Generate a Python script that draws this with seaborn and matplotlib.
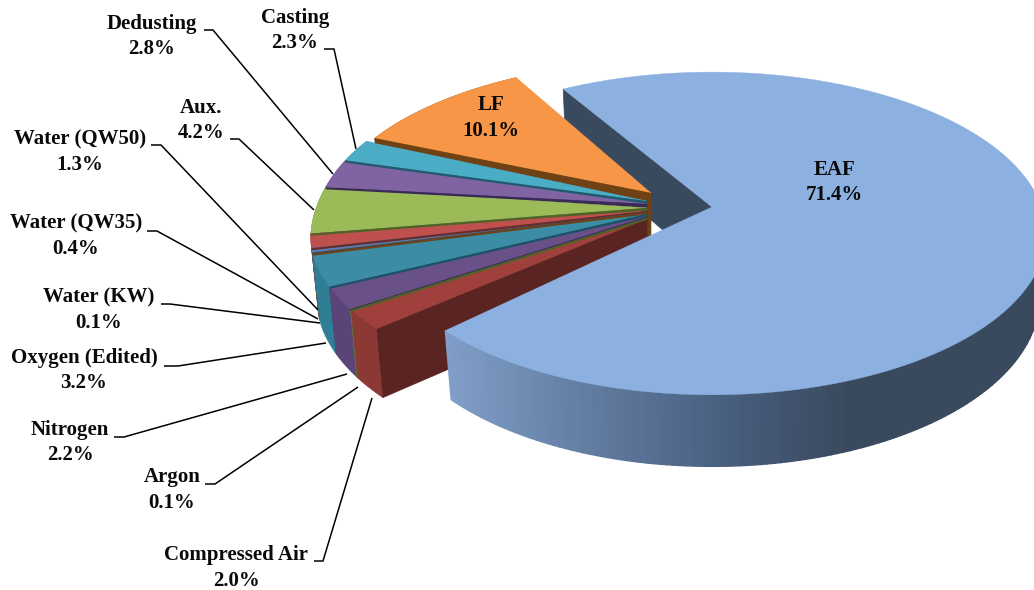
import numpy as np
import seaborn as sns
import matplotlib
matplotlib.use("Agg")
import matplotlib.pyplot as plt

# Energy shares per consumer, in percent
names = ["EAF", "LF", "Casting", "Dedusting", "Aux.", "Water (QW50)", "Water (QW35)",
         "Water (KW)", "Oxygen (Edited)", "Nitrogen", "Argon", "Compressed Air"]
shares = [71.4, 10.1, 2.3, 2.8, 4.2, 1.3, 0.4, 0.1, 3.2, 2.2, 0.1, 2.0]

top_colors = ["#8CB0E0", "#F79646", "#4BACC6", "#8064A2", "#9BBB59", "#C0504D",
              "#4F81BD", "#B9752F", "#3C8CA5", "#6A5088", "#7C9A42", "#A0403C"]
band_colors = ["#3A4A5E", "#6E4215", "#1F5A6E", "#3A2A58", "#4F6228", "#6B2B28",
               "#2C4F7A", "#6E4215", "#1A5266", "#3F2E5C", "#4F6228", "#5A2422"]
rim_colors = ["#3A4A5E", "#A8662C", "#337F94", "#5D4779", "#6F8A3C", "#8C3835",
              "#3A6490", "#8A5520", "#2F7E95", "#5B4578", "#66803A", "#8C3835"]

# Label anchor (centre x, first line y), in pixels
label_pos = [(834, 170), (491, 105), (295, 18), (152, 24), (201, 108), (80, 139),
             (76, 223), (99, 297), (84, 358), (70, 430), (172, 477), (236, 555)]

# Leader polylines, in pixels; the two largest slices carry their labels on the face
leaders = {
    "Casting": [(324, 49), (334, 49), (356, 149)],
    "Dedusting": [(204, 30), (213, 30), (333, 174)],
    "Aux.": [(230, 139), (239, 139), (314, 210)],
    "Water (QW50)": [(151, 145), (161, 145), (318, 310)],
    "Water (QW35)": [(147, 231), (157, 231), (318, 319)],
    "Water (KW)": [(161, 304), (170, 304), (320, 323)],
    "Oxygen (Edited)": [(164, 366), (178, 366), (326, 343)],
    "Nitrogen": [(114, 437), (124, 437), (347, 374)],
    "Argon": [(205, 484), (215, 484), (358, 387)],
    "Compressed Air": [(314, 561), (323, 561), (372, 398)],
}

# Projection of the tilted disc onto the page
RX, RY, PERSP, DEPTH, DROP = 338.0, 157.0, 0.164, 65.0, 0.02
START_ANGLE = 239.4
EAF_START = 239.0
EAF_XSCALE = 0.975


def project(theta, cx, cy, z=0.0, xs=1.0):
    t = np.radians(theta)
    u, v = np.cos(t), np.sin(t)
    w = 1 - PERSP * v + DROP * z
    return cx + xs * RX * u / w, cy + (RY * v + DEPTH * z) / w


def rim_centre(theta, slice_index):
    # The upper small slices sit slightly further back than the lower ones
    if slice_index == 1:
        return 667.0, 196.0
    s = np.clip((theta - 160.0) / 32.0, 0, 1)
    s = s * s * (3 - 2 * s)
    return 652.0 + 7.0 * s, 206.0 - 7.0 * s


sns.set_theme(style="white")
plt.rcParams["font.family"] = ["Liberation Serif", "DejaVu Serif"]

fig = plt.figure(figsize=(10.34, 5.90), dpi=100)
ax = fig.add_axes([0, 0, 1, 1])
ax.set_xlim(0, 1034)
ax.set_ylim(590, 0)
ax.axis("off")

spans = np.array(shares) / sum(shares) * 360.0
EAF_C = (712.0, 207.0)
eaf_low = EAF_START + spans[0] - 360.0   # lower-left edge of the large slice

# Back radial wall of the large slice
x0, y0 = project(EAF_START, *EAF_C, xs=EAF_XSCALE)
x1, y1 = project(EAF_START, *EAF_C, z=1, xs=EAF_XSCALE)
ax.fill([x0, EAF_C[0], EAF_C[0], x1], [y0, EAF_C[1], EAF_C[1] + DEPTH, y1],
        color=band_colors[0], lw=0.5, zorder=1)

# Small slices, painted back to front
angle = START_ANGLE
edges = []
for i in range(1, len(names)):
    hi, lo = angle, angle - spans[i]
    angle = lo
    mid = (hi + lo) / 2
    apex = (651.0, 193.0) if i == 1 else (647.0, 207.0 + 18 * np.sin(np.radians(mid)))
    arc = np.linspace(hi, lo, max(3, int(spans[i] * 2)))
    top = np.array([project(a, *rim_centre(a, i)) for a in arc])
    bot = np.array([project(a, *rim_centre(a, i), z=1) for a in arc])
    z = 2 + i * 0.01

    ax.fill(np.r_[top[:, 0], bot[::-1, 0]], np.r_[top[:, 1], bot[::-1, 1]],
            color=rim_colors[i], lw=0.4, zorder=z)
    ax.fill([top[-1, 0], apex[0], apex[0], bot[-1, 0]],
            [top[-1, 1], apex[1], apex[1] + DEPTH, bot[-1, 1]],
            color=band_colors[i], lw=0.4, zorder=z)
    ax.fill(np.r_[apex[0], top[:, 0]], np.r_[apex[1], top[:, 1]],
            color=top_colors[i], lw=0.3, zorder=z)
    edges.append((i, apex, top[-1]))

# Thin visible strip of each slice's side below its lower radial edge
for i, apex, rim in edges[:-1]:
    h = 5.0 if i == 1 else 2.2
    ax.fill([apex[0], rim[0], rim[0], apex[0]],
            [apex[1], rim[1], rim[1] + h, apex[1] + h],
            color=band_colors[i], lw=0, zorder=3)

# Outer side of the large slice, shaded from left to right
shade_x = [445, 540, 650, 750, 850, 1034]
shade_rgb = np.array([matplotlib.colors.to_rgb(c) for c in
                      ["#809FC8", "#6C88AE", "#566F92", "#455A78", "#3A4A5E", "#3A4A5E"]])
wall_angles = np.arange(eaf_low, -1, -1.0)
for a0, a1 in zip(wall_angles[:-1], wall_angles[1:]):
    p = [project(a0, *EAF_C, xs=EAF_XSCALE), project(a1, *EAF_C, xs=EAF_XSCALE),
         project(a1, *EAF_C, z=1, xs=EAF_XSCALE), project(a0, *EAF_C, z=1, xs=EAF_XSCALE)]
    xm = (p[0][0] + p[1][0]) / 2
    col = [np.interp(xm, shade_x, shade_rgb[:, k]) for k in range(3)]
    ax.fill([q[0] for q in p], [q[1] for q in p], color=col, lw=1.0, zorder=4)

# Top face of the large slice
arc = np.linspace(EAF_START, EAF_START + spans[0], 300)
top = np.array([project(a, *EAF_C, xs=EAF_XSCALE) for a in arc])
ax.fill(np.r_[EAF_C[0], top[:, 0]], np.r_[EAF_C[1], top[:, 1]],
        color=top_colors[0], lw=0.3, zorder=5)

# Leaders and labels
for name, pts in leaders.items():
    ax.plot([p[0] for p in pts], [p[1] for p in pts], color="black", lw=1.1,
            solid_capstyle="butt", zorder=6)

for name, share, (x, y) in zip(names, shares, label_pos):
    ax.text(x, y, name, ha="center", va="center", fontsize=15, fontweight="bold",
            color="#0a0a0a", zorder=7)
    ax.text(x, y + 25.5, f"{share:.1f}%", ha="center", va="center", fontsize=15,
            fontweight="bold", color="#0a0a0a", zorder=7)

fig.savefig("out.png", dpi=100, facecolor="white")
